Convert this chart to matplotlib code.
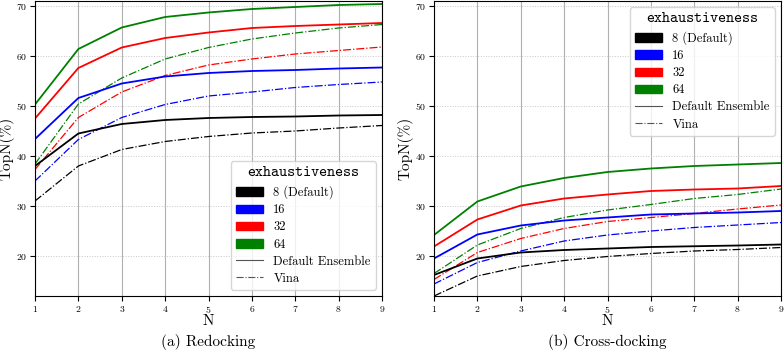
import matplotlib
matplotlib.use("Agg")
import matplotlib.pyplot as plt
from matplotlib.patches import Patch
from matplotlib.lines import Line2D

plt.rcParams["font.family"] = "serif"
plt.rcParams["font.serif"] = ["cmr10", "DejaVu Serif"]
plt.rcParams["font.monospace"] = ["cmtt10", "DejaVu Sans Mono"]
plt.rcParams["mathtext.fontset"] = "cm"
plt.rcParams["axes.formatter.use_mathtext"] = True

N = [1, 2, 3, 4, 5, 6, 7, 8, 9]
EXH_LABELS = ["8 (Default)", "16", "32", "64"]
COLORS = ["black", "blue", "red", "green"]

# Redocking
redock_ens = {
    "8": [38.0, 44.5, 46.4, 47.2, 47.6, 47.8, 47.9, 48.1, 48.2],
    "16": [43.4, 51.6, 54.5, 55.9, 56.6, 57.0, 57.2, 57.5, 57.7],
    "32": [47.5, 57.6, 61.7, 63.6, 64.7, 65.6, 66.0, 66.3, 66.6],
    "64": [50.3, 61.4, 65.7, 67.8, 68.7, 69.4, 69.8, 70.2, 70.4],
}
redock_vina = {
    "8": [31.0, 38.0, 41.3, 42.9, 43.9, 44.6, 45.0, 45.6, 46.1],
    "16": [35.0, 43.3, 47.7, 50.3, 52.0, 52.8, 53.7, 54.3, 54.8],
    "32": [37.3, 47.7, 52.8, 56.1, 58.2, 59.4, 60.4, 61.1, 61.8],
    "64": [38.4, 50.4, 55.6, 59.4, 61.7, 63.4, 64.6, 65.6, 66.3],
}

# Cross-docking
cross_ens = {
    "8": [16.2, 19.5, 20.7, 21.2, 21.5, 21.8, 21.95, 22.1, 22.3],
    "16": [19.5, 24.3, 26.1, 27.1, 27.7, 28.3, 28.5, 28.7, 29.0],
    "32": [21.9, 27.3, 30.1, 31.5, 32.3, 33.0, 33.3, 33.5, 34.0],
    "64": [24.2, 30.9, 33.9, 35.6, 36.8, 37.5, 38.0, 38.3, 38.6],
}
cross_vina = {
    "8": [12.0, 16.0, 17.9, 19.1, 19.9, 20.5, 21.0, 21.3, 21.7],
    "16": [14.4, 18.7, 21.0, 23.0, 24.2, 25.0, 25.7, 26.2, 26.7],
    "32": [15.3, 20.7, 23.5, 25.5, 26.9, 27.7, 28.5, 29.4, 30.2],
    "64": [16.5, 22.2, 25.5, 27.7, 29.2, 30.3, 31.5, 32.3, 33.4],
}


def draw(ax, ens, vina, legend_loc):
    keys = ["8", "16", "32", "64"]
    for k, c in zip(keys, COLORS):
        ax.plot(N, vina[k], color=c, linestyle="-.", linewidth=0.9)
    for k, c in zip(keys, COLORS):
        ax.plot(N, ens[k], color=c, linestyle="-", linewidth=1.3)
    ax.set_xlim(1, 9)
    ax.set_ylim(12, 71)
    ax.set_xticks(N)
    ax.set_yticks([20, 30, 40, 50, 60, 70])
    ax.tick_params(labelsize=7, pad=2)
    ax.grid(True, axis="x", color="#b0b0b0", linewidth=0.8)
    ax.grid(True, axis="y", color="#c8c8c8", linestyle=":", linewidth=0.7)
    ax.set_xlabel("N", fontsize=11, labelpad=0)
    ax.set_ylabel("TopN(%)", fontsize=11, labelpad=1)

    handles = [Patch(facecolor=c, edgecolor=c) for c in COLORS]
    handles += [Line2D([], [], color="#555555", linewidth=0.8, linestyle="-"),
                Line2D([], [], color="#555555", linewidth=0.8, linestyle="-.")]
    labels = EXH_LABELS + ["Default Ensemble", "Vina"]
    leg = ax.legend(handles, labels, loc=legend_loc, fontsize=9,
                    title="exhaustiveness", handlelength=2.2,
                    labelspacing=0.4, borderpad=0.4)
    leg.get_title().set_fontfamily("monospace")
    leg.get_title().set_fontsize(11)


fig = plt.figure(figsize=(7.84, 3.53), dpi=100)
ax1 = fig.add_axes([35 / 784, 57 / 353, 347 / 784, 295 / 353])
ax2 = fig.add_axes([434 / 784, 57 / 353, 347 / 784, 295 / 353])

draw(ax1, redock_ens, redock_vina, "lower right")
draw(ax2, cross_ens, cross_vina, "upper right")

fig.text((35 + 382) / 2 / 784, 1 - 342 / 353, "(a) Redocking", ha="center", va="center", fontsize=11)
fig.text((434 + 781) / 2 / 784, 1 - 342 / 353, "(b) Cross-docking", ha="center", va="center", fontsize=11)

fig.savefig("out.png", dpi=100)
